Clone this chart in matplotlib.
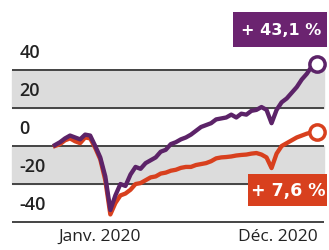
import matplotlib.pyplot as plt
from matplotlib.patches import Rectangle
import numpy as np

# weekly performance in %, Jan 2020 -> Dec 2020
purple_vals = [0.5, 2, 4, 5.5, 4.5, 3.5, 6, 5.5, 0, -6, -16, -33.7, -26, -20,
               -21, -15, -11, -12, -9, -7.5, -6, -3, -2, 1, 2, 3.5, 4.5, 6, 8,
               10, 11, 12, 14, 14.5, 15, 16.5, 15, 17, 16.5, 18.5, 19, 20.5, 19,
               12, 19, 23, 25, 28, 31, 35, 38, 42, 43.1]
orange_vals = [0, 1, 3, 4, 2.5, 1.5, 4.5, 4, -1, -7, -18, -36, -30, -26, -25,
               -23, -20, -19.5, -18, -16.5, -16, -14.5, -14, -13, -12.5, -11.5,
               -11, -11, -10, -9.5, -9, -8, -6.5, -6, -5.8, -5.5, -5, -4.7, -4.5,
               -4, -3.7, -4.5, -6, -11.6, -4, 0, 1.5, 3, 4.5, 5.5, 6.5, 7.2, 7.6]
ytick_vals = [40, 20, 0, -20, -40]
x_labels = ["Janv. 2020", "Déc. 2020"]
purple_label = "+ 43,1 %"
orange_label = "+ 7,6 %"

purple = "#5c2368"
purple_box = "#6b2470"
orange = "#d8401e"

weeks = np.arange(len(purple_vals))

fig = plt.figure(figsize=(3.29, 2.5), dpi=100)
ax = fig.add_axes([0, 0, 1, 1])
ax.set_xlim(-10.9, 54.4)
ax.set_ylim(-54.7, 76.8)
ax.axis("off")

x0, x1 = -8.5, 53.5
ax.fill_between([x0, x1], 20, 40, color="#dcdcdc", zorder=0)
ax.fill_between([x0, x1], -20, 0, color="#dcdcdc", zorder=0)
ax.hlines(ytick_vals, x0, x1, color="#444444", lw=1.4, zorder=1)
for v in ytick_vals:
    ax.text(-7.0, v + 9, str(v), ha="left", va="center", fontsize=13,
            fontweight="semibold", family="Open Sans", color="#222222")

ax.plot(weeks, orange_vals, color=orange, lw=3.1, zorder=3, solid_joinstyle="round")
ax.plot(weeks, purple_vals, color=purple, lw=3.1, zorder=4, solid_joinstyle="round")
ax.plot(weeks[-1], orange_vals[-1], "o", ms=11, mfc="white", mec=orange, mew=2.5, zorder=5)
ax.plot(weeks[-1], purple_vals[-1], "o", ms=11, mfc="white", mec=purple, mew=2.5, zorder=5)

# value boxes
ax.add_patch(Rectangle((35.3, 52.1), 18.7, 18.4, fc=purple_box, ec="none", zorder=6))
ax.text(44.9, 60.5, purple_label, ha="center", va="center", fontsize=11.5,
        fontweight="bold", color="white", zorder=7)
ax.add_patch(Rectangle((38.3, -31.5), 15.8, 16.8, fc=orange, ec="none", zorder=6))
ax.text(46.3, -23.8, orange_label, ha="center", va="center", fontsize=12.5,
        fontweight="bold", color="white", zorder=7)

ax.text(8.9, -47.9, x_labels[0], ha="center", va="center", fontsize=12.5,
        family="Open Sans", color="#222222")
ax.text(44.2, -47.9, x_labels[1], ha="center", va="center", fontsize=12.5,
        family="Open Sans", color="#222222")

fig.savefig("out.png", dpi=100)
